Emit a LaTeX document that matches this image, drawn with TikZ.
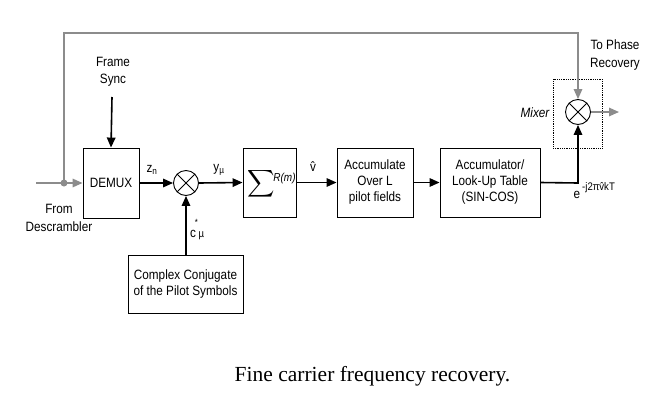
\documentclass[tikz,border=0pt]{standalone}
\usepackage{fontspec}
\setmainfont{Liberation Sans}[FakeStretch=0.87]
\newfontfamily\capfont{Liberation Serif}
\usetikzlibrary{arrows.meta}
\tikzset{
  blk/.style={draw, line width=0.9pt, align=center, inner sep=0pt, font=\fontsize{13.5}{16}\selectfont},
  mult/.style={draw, circle, line width=0.9pt, minimum size=25pt, inner sep=0pt,
    path picture={\draw[line width=0.9pt] (path picture bounding box.north west) -- (path picture bounding box.south east)
      (path picture bounding box.north east) -- (path picture bounding box.south west);}},
  sig/.style={line width=1.6pt, -{Triangle[length=10pt,width=8.5pt]}},
  gsig/.style={line width=1.6pt, draw=gray!90, -{Triangle[length=10pt,width=8.5pt]}, color=gray!90},
  gline/.style={line width=1.6pt, draw=gray!90},
  lbl/.style={inner sep=0pt, align=center, font=\fontsize{13.5}{17.5}\selectfont},
}
\begin{document}
\begin{tikzpicture}[x=1pt,y={(0pt,-1pt)}]
\useasboundingbox[fill=white] (0,0) rectangle (671,407);
% blocks
\node[blk, minimum width=56pt, minimum height=70pt] (demux) at (111,183) {DEMUX};
\node[blk, minimum width=53pt, minimum height=69pt] (sum) at (269.5,182.5) {};
\node[inner sep=0pt, scale=1.9] (sigma) at (261.5,184) {$\displaystyle\sum$};
\node[inner sep=0pt, font=\fontsize{11.5}{13}\selectfont\itshape] (rm) at (284.5,178.5) {R(m)};
\node[blk, minimum width=76pt, minimum height=69pt] (acc) at (375,182.5) {Accumulate\\Over L\\pilot fields};
\node[blk, minimum width=100pt, minimum height=69pt] (lut) at (490,182.5) {Accumulator/\\Look-Up Table\\(SIN-COS)};
\node[blk, minimum width=115pt, minimum height=58pt] (pilot) at (185.5,284) {Complex Conjugate\\of the Pilot Symbols};
\node[mult] (m1) at (186,183) {};
\node[mult] (m2) at (578,112) {};
\node[draw, densely dotted, line width=0.8pt, minimum width=49pt, minimum height=69pt, inner sep=0pt] (mixbox) at (577.5,113.5) {};
% coordinates
\coordinate (in) at (36,183);
\coordinate (dot) at (64,183);
\coordinate (tl) at (64,33);
\coordinate (fs) at (112,97);
\coordinate (out) at (619,112);
\coordinate (corner) at (578,183);
% connectors
\draw[gline] (in) -- (dot);
\draw[gsig] (dot) -- (demux.west);
\fill[gray!90] (dot) circle (3.5pt);
\draw[gsig] (dot) -- (tl) -| (m2.north);
\draw[sig] (fs) -- (demux.north);
\draw[sig] (demux.east) -- (m1.west);
\draw[sig] (m1.east) -- (sum.west);
\draw[sig] (sum.east) -- (acc.west);
\draw[sig] (acc.east) -- (lut.west);
\draw[sig] (pilot.north -| m1.south) -- (m1.south);
\draw[sig] (lut.east) -- (corner) -- (m2.south);
\draw[gsig] (m2.east) -- (out);
% labels
\node[lbl] (fslbl) at (113,72) {Frame\\Sync};
\node[lbl] (fromlbl) at (59,218) {From\\Descrambler};
\node[lbl] (zn) at (152,170) {z\textsubscript{n}};
\node[lbl] (ymu) at (219,170) {y\textsubscript{µ}};
\node[lbl] (vhat) at (313,167) {\^{v}};
\node[lbl] (cc) at (193,234) {c};
\node[lbl, font=\fontsize{9}{10}\selectfont] (cstar) at (196.5,222) {*};
\node[lbl, font=\fontsize{11}{12}\selectfont] (cmu) at (201.5,236) {µ};
\node[lbl] (ee) at (577,195) {e};
\node[lbl, anchor=west, font=\fontsize{11}{12}\selectfont] (expo) at (582,188) {-j2π\^{v}kT};
\node[lbl, font=\fontsize{13.5}{15}\selectfont\itshape] (mixlbl) at (535,113) {Mixer};
\node[lbl] (tophase) at (615,55) {To Phase\\Recovery};
\node[inner sep=0pt, font=\capfont\fontsize{21.5}{24}\selectfont] (cap) at (372.5,376) {Fine carrier frequency recovery.};
\end{tikzpicture}
\end{document}
